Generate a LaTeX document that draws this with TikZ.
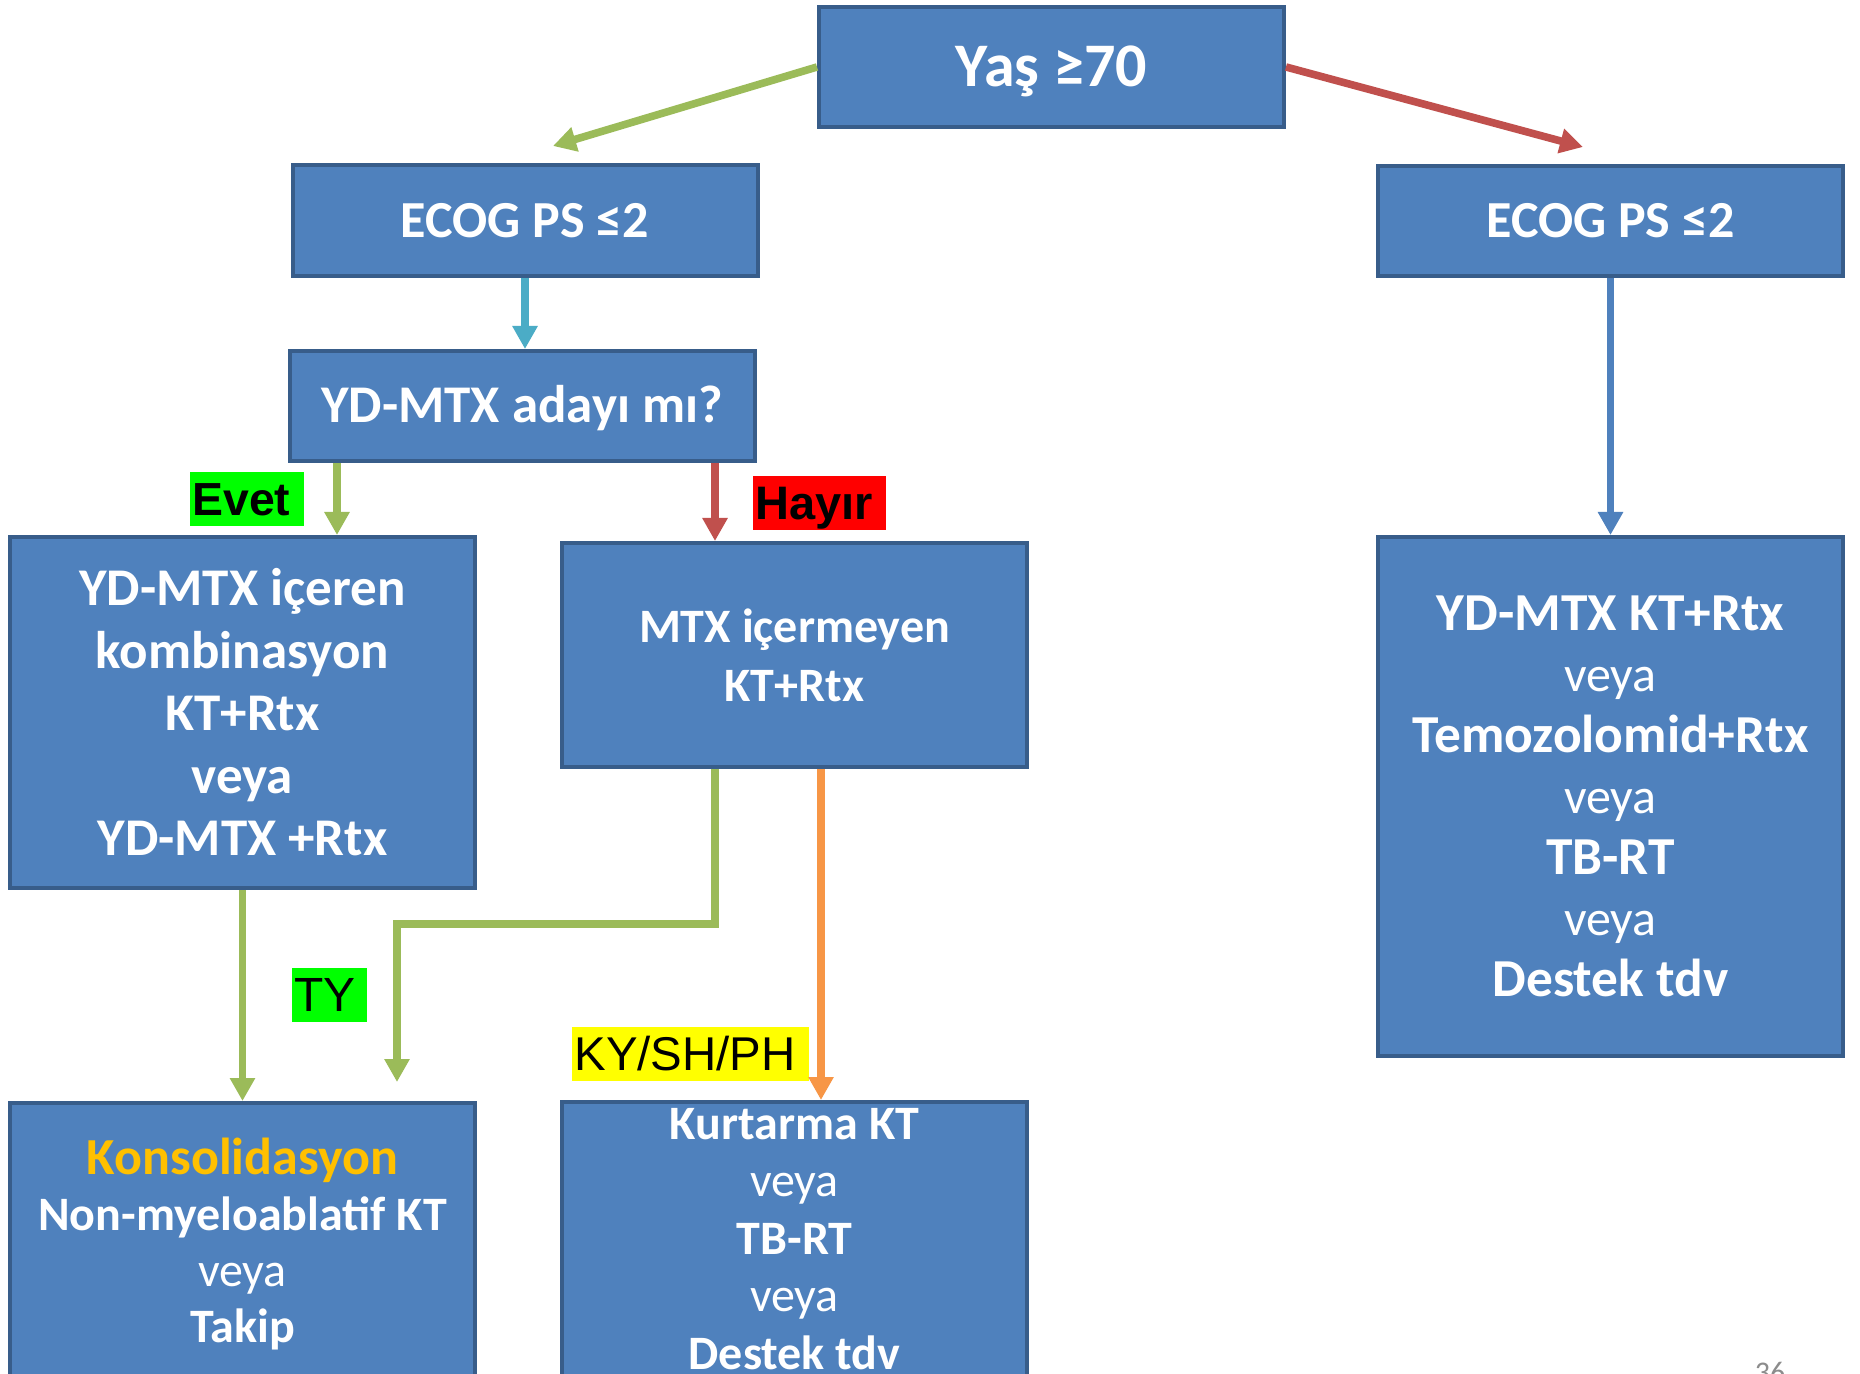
\documentclass[tikz,border=0pt]{standalone}
\usepackage{fontspec}
\usepackage{graphicx}
\setmainfont{Carlito}
\newfontfamily\arialf{Liberation Sans}
\usetikzlibrary{arrows.meta,calc}
\definecolor{boxfill}{HTML}{4F81BD}
\definecolor{boxline}{HTML}{385D8A}
\definecolor{cgreen}{HTML}{9BBB59}
\definecolor{cred}{HTML}{C0504D}
\definecolor{ccyan}{HTML}{4BACC6}
\definecolor{cblue}{HTML}{4F81BD}
\definecolor{corange}{HTML}{F79646}
\definecolor{konsc}{HTML}{FFC000}
\definecolor{pgnum}{HTML}{8C8C8C}
\definecolor{lgreen}{HTML}{00FF00}
\definecolor{lred}{HTML}{FF0000}
\definecolor{lyellow}{HTML}{FFFF00}
\begin{document}
\begin{tikzpicture}[x=0.5pt,y=-0.5pt,
 box/.style={draw=boxline, fill=boxfill, line width=2pt, text=white, align=center, inner sep=0pt, minimum width=232.5pt},
 conn/.style={line width=3.8pt, -{Triangle[length=11.5pt,width=12pt]}},
 lab/.style={inner xsep=1.2pt, inner ysep=0pt, minimum height=27pt, text=black, text height=16.5pt, text depth=0pt, align=left}
]
\clip (0,0) rectangle (1860,1374);
\fill[white] (0,0) rectangle (1860,1374);

% boxes
\node[box, minimum height=60pt, text height=20pt, text depth=0pt, font=\bfseries\fontsize{31}{31}\selectfont] (top) at (1051.5,67) {Yaş ≥70};
\node[box, minimum height=55.5pt, text height=16.7pt, text depth=0pt, font=\bfseries\fontsize{26}{26}\selectfont] (ecogL) at (525,220.5) {ECOG PS ≤2};
\node[box, minimum height=55pt, text height=16.7pt, text depth=0pt, font=\bfseries\fontsize{26}{26}\selectfont] (ecogR) at (1610.5,221) {ECOG PS ≤2};
\node[box, minimum height=55pt, text height=17pt, text depth=0pt, font=\bfseries\fontsize{26.5}{26.5}\selectfont] (ydq) at (522,406) {YD-MTX adayı mı?};
\node[box, minimum height=175.5pt, font=\bfseries\fontsize{26.5}{31.25}\selectfont] (leftbig) at (242.5,712.5)
  {YD-MTX içeren\\kombinasyon\\KT+Rtx\\veya\\YD-MTX +Rtx};
\node[box, minimum height=112pt, font=\bfseries\fontsize{24}{29.5}\selectfont] (mtx) at (794.5,655)
  {MTX içermeyen\\KT+Rtx};
\node[box, minimum height=259.5pt, font=\bfseries\fontsize{26.7}{30.5}\selectfont] (rightbig) at (1610.5,796.5)
  {YD-MTX KT+Rtx\\{\mdseries\fontsize{25}{30.5}\selectfont veya}\\Temozolomid+Rtx\\{\mdseries\fontsize{25}{30.5}\selectfont veya}\\TB-RT\\{\mdseries\fontsize{25}{30.5}\selectfont veya}\\Destek tdv};
\node[box, minimum height=141pt, font=\bfseries\fontsize{24}{28}\selectfont] (kons) at (242.5,1244)
  {{\color{konsc}\fontsize{26}{28}\selectfont Konsolidasyon}\\Non-myeloablatif KT\\{\mdseries veya}\\Takip};
\node[box, minimum height=137pt, font=\bfseries\fontsize{24}{28.75}\selectfont] (kurt) at (794.5,1239)
  {Kurtarma KT\\{\mdseries veya}\\TB-RT\\{\mdseries veya}\\Destek tdv};

% labels
\node[lab, fill=lgreen, text width=54.6pt, font=\arialf\bfseries\fontsize{23.2}{23.2}\selectfont] (evet) at (247,499) {Evet};
\node[lab, fill=lred, text width=64.1pt, font=\arialf\bfseries\fontsize{23.5}{23.5}\selectfont] (hayir) at (819.5,503) {Hayır};
\node[lab, fill=lgreen, text width=35.1pt, font=\arialf\fontsize{24}{24}\selectfont] (ty) at (329.5,995) {TY};
\node[lab, fill=lyellow, text width=116.1pt, font=\arialf\fontsize{23.7}{23.7}\selectfont] (ky) at (690.5,1054) {KY/SH/PH};

% coordinates
\coordinate (gTip) at (553,146);
\coordinate (rTip) at (1583,147);
\coordinate (xE) at (337,0);
\coordinate (xA) at (715,0);
\coordinate (xO) at (821,0);
\coordinate (bendA) at (715,924);
\coordinate (bendB) at (397,924);
\coordinate (tyTip) at (397,1082);

% connectors
\draw[conn, cgreen] (top.west) -- (gTip);
\draw[conn, cred] (top.east) -- (rTip);
\draw[conn, ccyan] (ecogL.south) -- (ecogL.south |- ydq.north);
\draw[conn, cblue] (ecogR.south) -- (rightbig.north);
\draw[conn, cgreen] (ydq.south -| xE) -- (leftbig.north -| xE);
\draw[conn, cred] (ydq.south -| xA) -- (mtx.north -| xA);
\draw[conn, cgreen] (leftbig.south) -- (kons.north);
\draw[conn, cgreen] (mtx.south -| bendA) -- (bendA) -- (bendB) -- (tyTip);
\draw[conn, corange] (mtx.south -| xO) -- (kurt.north -| xO);

% page number
\node[font=\fontsize{15}{15}\selectfont, text=pgnum, anchor=base, inner sep=0pt] (pg) at (1770,1382) {36};
\end{tikzpicture}
\end{document}
